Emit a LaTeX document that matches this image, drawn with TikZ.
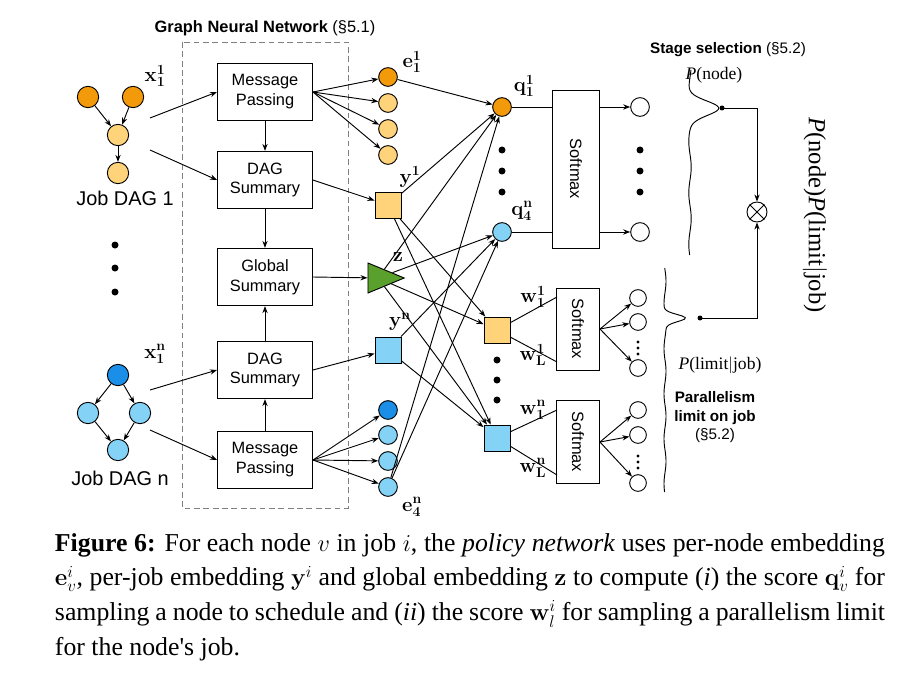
\documentclass[tikz,border=0pt]{standalone}
\usepackage[no-math]{fontspec}
\setmainfont{Liberation Sans}
\newfontfamily\capfont{Liberation Serif}
\usepackage{amsmath}
\usetikzlibrary{arrows.meta,shapes.geometric}
\definecolor{orgA}{HTML}{F39A0B}
\definecolor{orgB}{HTML}{FFD37A}
\definecolor{bluA}{HTML}{1B8FE8}
\definecolor{bluB}{HTML}{84D3F7}
\definecolor{grnA}{HTML}{5AA02C}
\tikzset{
  circ/.style={circle,draw,thick,minimum size=0.64cm,inner sep=0pt},
  emb/.style={circle,draw,thick,minimum size=0.56cm,inner sep=0pt},
  sq/.style={rectangle,draw,thick,minimum size=0.78cm,inner sep=0pt},
  blk/.style={rectangle,draw,thick,minimum width=2.85cm,minimum height=1.72cm,align=center,font=\fontsize{14}{17}\selectfont},
  smx/.style={rectangle,draw,thick,font=\fontsize{14}{17}\selectfont},
  arr/.style={-{Stealth[length=6pt]},thick},
  lbl/.style={font=\fontsize{17}{20}\selectfont,inner sep=0pt}
}
\begin{document}
\begin{tikzpicture}[x=0.03cm,y=-0.03cm]
\useasboundingbox (0,0) rectangle (900,677);
% job dag 1
\node[circ,fill=orgA] (a1) at (88,97) {};
\node[circ,fill=orgA] (a2) at (133,97) {};
\node[circ,fill=orgB] (a3) at (118,135) {};
\node[circ,fill=orgB] (a4) at (118,173) {};
\draw[arr] (a1) -- (a3); \draw[arr] (a2) -- (a3); \draw[arr] (a3) -- (a4);
\node[lbl] (xa) at (155,76) {$\mathbf{x^1_1}$};
\node[lbl] (ja) at (125,198) {Job DAG 1};
\foreach \y in {245,268,292} \fill (115,\y) circle (3.5);
% job dag n
\node[circ,fill=bluA] (b1) at (118,375) {};
\node[circ,fill=bluB] (b2) at (88,413) {};
\node[circ,fill=bluB] (b3) at (140,413) {};
\node[circ,fill=bluB] (b4) at (118,450) {};
\draw[arr] (b1) -- (b2); \draw[arr] (b1) -- (b3); \draw[arr] (b2) -- (b4); \draw[arr] (b3) -- (b4);
\node[lbl] (xb) at (155,354) {$\mathbf{x^n_1}$};
\node[lbl] (jb) at (120,478) {Job DAG n};
% gnn
\draw[dashed,thick,gray,dash pattern=on 5pt off 3pt] (182,42) rectangle (348,508);
\node[font=\bfseries\fontsize{14}{17}\selectfont] (gt) at (265,28) {Graph Neural Network {\mdseries(§5.1)}};
\node[blk] (mp1) at (265,92) {Message\\Passing};
\node[blk] (ds1) at (265,180) {DAG\\Summary};
\node[blk] (gs) at (265,277) {Global\\Summary};
\node[blk] (ds2) at (265,370) {DAG\\Summary};
\node[blk] (mp2) at (265,460) {Message\\Passing};
\draw[arr] (mp1) -- (ds1); \draw[arr] (ds1) -- (gs);
\draw[arr] (mp2) -- (ds2); \draw[arr] (ds2) -- (gs);
\coordinate (c1) at (150,118); \coordinate (c2) at (150,150);
\coordinate (c3) at (150,390); \coordinate (c4) at (150,430);
\draw[arr] (c1) -- (mp1.west); \draw[arr] (c2) -- (ds1.west);
\draw[arr] (c3) -- (ds2.west); \draw[arr] (c4) -- (mp2.west);
% embeddings
\node[emb,fill=orgA] (e1) at (388,77) {};
\node[emb,fill=orgB] (e2) at (388,103) {};
\node[emb,fill=orgB] (e3) at (388,129) {};
\node[emb,fill=orgB] (e4) at (388,155) {};
\node[emb,fill=bluA] (f1) at (388,410) {};
\node[emb,fill=bluB] (f2) at (388,435) {};
\node[emb,fill=bluB] (f3) at (388,461) {};
\node[emb,fill=bluB] (f4) at (388,487) {};
\foreach \n in {e1,e2,e3,e4} \draw[arr] (mp1.east) -- (\n);
\foreach \n in {f1,f2,f3,f4} \draw[arr] (mp2.east) -- (\n);
\node[sq,fill=orgB] (y1) at (388,205) {};
\node[sq,fill=bluB] (yn) at (388,350) {};
\node[isosceles triangle,draw,thick,fill=grnA,minimum size=0.9cm,inner sep=0pt] (z) at (378,278) {};
\draw[arr] (ds1.east) -- (y1); \draw[arr] (ds2.east) -- (yn); \draw[arr] (gs.east) -- (z);
\node[lbl] at (412,62) {$\mathbf{e^1_1}$};
\node[lbl] at (410,177) {$\mathbf{y^1}$};
\node[lbl] at (398,257) {$\mathbf{z}$};
\node[lbl] at (400,322) {$\mathbf{y^n}$};
\node[lbl] at (412,507) {$\mathbf{e^n_4}$};
% scores
\node[emb,fill=orgA] (q1) at (502,107) {};
\node[emb,fill=bluB] (q4) at (502,232) {};
\foreach \y in {150,171,192} \fill (502,\y) circle (3.5);
\node[lbl] at (524,86) {$\mathbf{q^1_1}$};
\node[lbl] at (522,211) {$\mathbf{q^n_4}$};
\node[sq,fill=orgB] (w1) at (497,330) {};
\node[sq,fill=bluB] (wn) at (497,438) {};
\foreach \y in {360,380,400} \fill (497,\y) circle (3.5);
\foreach \s in {e1,y1,z} \draw[arr] (\s) -- (q1);
\draw[arr] (f4) -- (q1);
\foreach \s in {f4,yn,z} \draw[arr] (\s) -- (q4);
\foreach \s in {y1,z} \draw[arr] (\s) -- (w1);
\foreach \s in {yn,z,y1} \draw[arr] (\s) -- (wn);
% softmax boxes
\node[smx,minimum width=1.41cm,minimum height=4.74cm] (s1) at (576,169) {\rotatebox{-90}{Softmax}};
\node[smx,minimum width=1.29cm,minimum height=2.46cm] (s2) at (578,329) {\rotatebox{-90}{Softmax}};
\node[smx,minimum width=1.29cm,minimum height=2.5cm] (s3) at (578,442) {\rotatebox{-90}{Softmax}};
\draw[thick] (q1) -- (q1 -| s1.west); \draw[thick] (q4) -- (q4 -| s1.west);
\node[emb] (o1) at (640,107) {};
\node[emb] (o2) at (640,232) {};
\foreach \y in {150,171,192} \fill (640,\y) circle (3.5);
\draw[arr] (o1 -| s1.east) -- (o1); \draw[arr] (o2 -| s1.east) -- (o2);
\coordinate (t2) at (557,297); \coordinate (b2) at (557,362);
\coordinate (t3) at (557,410); \coordinate (b3) at (557,475);
\draw[thick] (w1) -- (t2); \draw[thick] (w1) -- (b2);
\draw[thick] (wn) -- (t3); \draw[thick] (wn) -- (b3);
\node[lbl] at (533,297) {$\mathbf{w^1_1}$};
\node[lbl] at (533,355) {$\mathbf{w^1_L}$};
\node[lbl] at (533,410) {$\mathbf{w^n_1}$};
\node[lbl] at (533,468) {$\mathbf{w^n_L}$};
\foreach \i/\y in {1/298,2/322,3/368} {
  \node[circ,minimum size=0.5cm] (p\i) at (638,\y) {};
  \draw[arr] (s2.east) -- (p\i);
}
\foreach \i/\y in {1/410,2/435,3/483} {
  \node[circ,minimum size=0.5cm] (r\i) at (638,\y) {};
  \draw[arr] (s3.east) -- (r\i);
}
\foreach \y in {342,348,354} \fill (638,\y) circle (1.6);
\foreach \y in {456,462,468} \fill (638,\y) circle (1.6);
% distributions
\draw[thick,domain=70:255,samples=150,variable=\t]
  plot ({690+28*exp(-((\t-108)/10)^2)+1.2*sin(\t*7)},\t);
\draw[thick,domain=268:492,samples=150,variable=\t]
  plot ({665+20*exp(-((\t-318)/5)^2)+1*sin(\t*8)},\t);
\node[font=\bfseries\fontsize{13}{16}\selectfont] at (728,50) {Stage selection {\mdseries(§5.2)}};
\node[font=\capfont\fontsize{15}{18}\selectfont] at (714,75) {\textit{P}(node)};
\node[font=\capfont\fontsize{15}{18}\selectfont] at (720,365) {\textit{P}(limit$|$job)};
\node[align=center,font=\bfseries\fontsize{13}{16}\selectfont] at (715,408) {Parallelism\\limit on job};
\node[font=\fontsize{13}{16}\selectfont] at (715,436) {(§5.2)};
\node[circle,draw,thick,minimum size=0.6cm,inner sep=0pt] (ox) at (757,212) {};
\draw[thick] (ox.45) -- (ox.225) (ox.135) -- (ox.315);
\fill (722,108) circle (2.5) coordinate (d1);
\fill (700,318) circle (2.5) coordinate (d2);
\draw[arr] (d1) -| (ox); \draw[arr] (d2) -| (ox);
\node[rotate=-90,font=\capfont\fontsize{21}{24}\selectfont] at (815,215) {\textit{P}(node)\textit{P}(limit$|$job)};
% caption
\node[text width=24.9cm,align=justify,font=\capfont\fontsize{22}{29.5}\selectfont,inner sep=0pt] at (470,597)
{\textbf{Figure 6:} For each node $v$ in job $i$, the \textit{policy network} uses per-node embedding $\mathbf{e}_v^i$, per-job embedding $\mathbf{y}^i$ and global embedding $\mathbf{z}$ to compute (\textit{i}) the score $\mathbf{q}_v^i$ for sampling a node to schedule and (\textit{ii}) the score $\mathbf{w}_l^i$ for sampling a parallelism limit for the node's job.};
\end{tikzpicture}
\end{document}
